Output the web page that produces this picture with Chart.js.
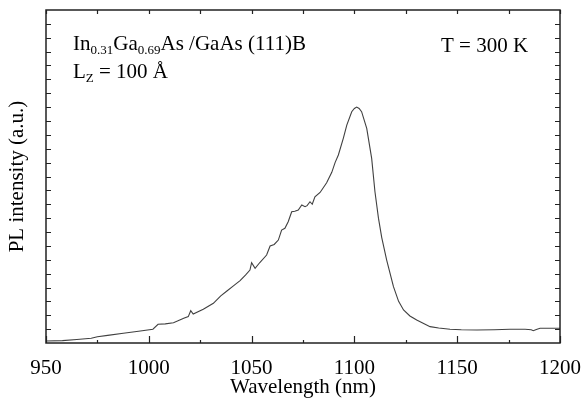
<!DOCTYPE html>
<html>
<head>
<meta charset="utf-8">
<script src="https://cdn.jsdelivr.net/npm/chart.js@4"></script>
<style>
  html, body { margin: 0; padding: 0; background: #fff; }
  #wrap { width: 583px; height: 405px; }
</style>
</head>
<body>
<div id="wrap"><canvas id="myChart" width="583" height="405"></canvas></div>
<script>
// wavelength (nm) and PL intensity (a.u.)
const wavelength = [950, 958, 965, 972, 975, 980, 987.6, 995, 1002, 1004.5, 1008, 1012, 1017, 1019.2, 1020.4, 1021.6,
  1026.5, 1031.4, 1035, 1038, 1041, 1044.4, 1047, 1049.2, 1050, 1051.7, 1054, 1057.3, 1059, 1061, 1063, 1064.6,
  1066.2, 1067.8, 1069.5, 1071, 1072.7, 1074.4, 1076, 1077, 1078.4, 1079.5, 1080.8, 1083.3, 1086.5, 1089, 1090.6,
  1092.2, 1094.6, 1096.3, 1098.7, 1100, 1101.1, 1102.3, 1103.5, 1106, 1108.4, 1110, 1111.7, 1113.3, 1115.7, 1119,
  1121.5, 1123.9, 1127, 1130.3, 1136.8, 1141, 1146.5, 1152, 1159.5, 1168, 1175.7, 1183, 1186, 1187, 1188.5, 1190.3,
  1199.2, 1200]
const intensity = [0.14, 0.17, 0.25, 0.34, 0.45, 0.55, 0.7, 0.85, 0.99, 1.35, 1.38, 1.46, 1.78, 1.9, 2.33, 2.09,
  2.43, 2.86, 3.4, 3.75, 4.1, 4.5, 4.9, 5.26, 5.79, 5.38, 5.8, 6.34, 6.99, 7.1, 7.42, 8.14,
  8.27, 8.74, 9.46, 9.5, 9.58, 9.95, 9.82, 9.9, 10.18, 10.0, 10.54, 10.85, 11.55, 12.3, 13.0,
  13.55, 14.75, 15.7, 16.67, 16.9, 17.0, 16.9, 16.67, 15.47, 13.31, 10.9, 9.0, 7.6, 5.98, 4.06,
  3.0, 2.38, 1.95, 1.66, 1.18, 1.08, 0.99, 0.95, 0.94, 0.96, 0.99, 0.99, 0.96, 0.89, 0.98, 1.06,
  1.06, 1.06]
const xTicks = [950, 1000, 1050, 1100, 1150, 1200]

const serif = "'Liberation Serif', 'DejaVu Serif', serif"

// inward ticks on all four sides + the text labels
const frameTicks = {
  id: 'frameTicks',
  afterDraw(chart) {
    const { ctx, chartArea: a, scales } = chart
    const x = scales.x, y = scales.y
    ctx.save()
    ctx.strokeStyle = '#222'
    ctx.lineWidth = 1.2
    ctx.beginPath()
    for (let v = 950; v <= 1200; v += 25) {
      const px = Math.round(x.getPixelForValue(v)) + 0.5
      const major = v % 50 === 0
      ctx.moveTo(px, a.bottom); ctx.lineTo(px, a.bottom - (major ? 7 : 3))
      ctx.moveTo(px, a.top); ctx.lineTo(px, a.top + 4)
    }
    for (let v = 1; v < 24; v++) {
      const py = Math.round(y.getPixelForValue(v)) + 0.5
      ctx.moveTo(a.left, py); ctx.lineTo(a.left + 5, py)
      ctx.moveTo(a.right, py); ctx.lineTo(a.right - 5, py)
    }
    ctx.stroke()
    ctx.lineWidth = 1.5
    ctx.strokeRect(a.left, a.top, a.right - a.left, a.bottom - a.top)

    // labels
    ctx.fillStyle = '#000'
    ctx.textBaseline = 'alphabetic'
    const big = '21px ' + serif, small = '13px ' + serif
    const parts = [['In', 0], ['0.31', 1], ['Ga', 0], ['0.69', 1], ['As /GaAs (111)B', 0]]
    let cx = 73
    parts.forEach(([t, sub]) => {
      ctx.font = sub ? small : big
      ctx.fillText(t, cx, sub ? 54 : 50)
      cx += ctx.measureText(t).width
    })
    cx = 73
    const parts2 = [['L', 0], ['Z', 1], [' = 100 Å', 0]]
    parts2.forEach(([t, sub]) => {
      ctx.font = sub ? small : big
      ctx.fillText(t, cx, sub ? 82 : 78)
      cx += ctx.measureText(t).width
    })
    ctx.font = big
    ctx.fillText('T = 300 K', 441, 52)
    ctx.restore()
  }
}

const ctx = document.getElementById('myChart')
new Chart(ctx, {
  type: 'line',
  data: {
    datasets: [{
      data: wavelength.map((w, i) => ({ x: w, y: intensity[i] })),
      borderColor: '#404040',
      borderWidth: 1.1,
      pointRadius: 0,
      tension: 0,
      fill: false
    }]
  },
  options: {
    responsive: false,
    animation: false,
    layout: { padding: { top: 10, right: 23, left: 0, bottom: 0 } },
    plugins: { legend: { display: false }, tooltip: { enabled: false } },
    scales: {
      x: {
        type: 'linear',
        min: 950,
        max: 1200,
        afterBuildTicks: s => { s.ticks = xTicks.map(v => ({ value: v })) },
        afterFit: s => { s.height = 62; s.paddingLeft = 0; s.paddingRight = 0 },
        grid: { display: false, drawTicks: false },
        border: { display: false },
        ticks: { color: '#000', font: { family: serif, size: 21 }, padding: 13, maxRotation: 0, callback: v => String(v) },
        title: { display: true, text: 'Wavelength (nm)', color: '#000', font: { family: serif, size: 21 }, padding: { top: 0, bottom: 5 } }
      },
      y: {
        min: 0,
        max: 24,
        afterFit: s => { s.width = 46 },
        grid: { display: false, drawTicks: false },
        border: { display: false },
        ticks: { display: false, stepSize: 1 },
        title: { display: true, text: 'PL intensity (a.u.)', color: '#000', font: { family: serif, size: 21 }, padding: { top: 5, bottom: 0 } }
      }
    }
  },
  plugins: [frameTicks]
})
</script>
</body>
</html>
